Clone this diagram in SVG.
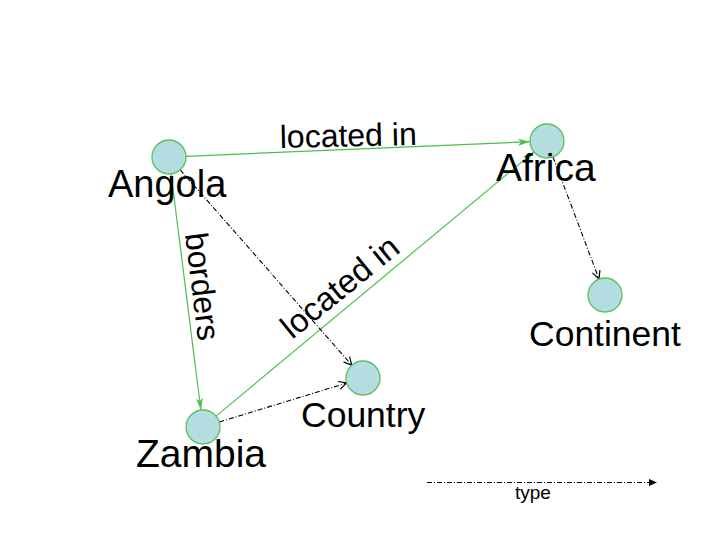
<svg xmlns="http://www.w3.org/2000/svg" width="728" height="546" viewBox="0 0 728 546">
<style>
.node{fill:#b3dde0;stroke:#5cc05c;stroke-width:1.3}
.lbl{font-family:"Liberation Sans",Arial,sans-serif;fill:#000}
.g{stroke:#4cbf4c;stroke-width:1.2;fill:none}
.t{stroke:#000;stroke-width:1.1;fill:none;stroke-dasharray:5,2,1,2}
</style>
<defs>
<marker id="ag" viewBox="0 0 12 8" refX="12" refY="4" markerWidth="12" markerHeight="8" markerUnits="userSpaceOnUse" orient="auto">
<path d="M0,0.5 L12,4 L0,7.5 L3,4 Z" fill="#4cbf4c"/>
</marker>
<marker id="ab" viewBox="0 0 10 10" refX="9" refY="5" markerWidth="10" markerHeight="10" markerUnits="userSpaceOnUse" orient="auto">
<path d="M1,1 L9,5 L1,9" fill="none" stroke="#000" stroke-width="1.2"/>
</marker>
<marker id="al" viewBox="0 0 8 8" refX="8" refY="4" markerWidth="8" markerHeight="8" markerUnits="userSpaceOnUse" orient="auto">
<path d="M0,0.5 L8,4 L0,7.5 Z" fill="#000"/>
</marker>
</defs>
<g id="connectors">
<line class="g" x1="186" y1="156.3" x2="530" y2="141.7" marker-end="url(#ag)"/>
<line class="g" x1="171.1" y1="173.9" x2="200.9" y2="410.1" marker-end="url(#ag)"/>
<line class="g" x1="216.1" y1="416.1" x2="533.9" y2="151.9" marker-end="url(#ag)"/>
<line class="t" x1="180.2" y1="169.8" x2="351.8" y2="365.2" marker-end="url(#ab)"/>
<line class="t" x1="219.3" y1="422" x2="346.7" y2="383" marker-end="url(#ab)"/>
<line class="t" x1="553" y1="157" x2="599" y2="279" marker-end="url(#ab)"/>
<line class="t" x1="427" y1="482.5" x2="657" y2="482.5" marker-end="url(#al)"/>
<text class="lbl" font-size="32" transform="translate(280,148) rotate(-1.3)">located in</text>
<text class="lbl" font-size="33" transform="translate(292,340) rotate(-39)">located in</text>
<text class="lbl" font-size="32" transform="translate(185,234) rotate(83)">borders</text>
<text class="lbl" font-size="19" x="515" y="499">type</text>
</g>
<g id="angola"><circle class="node" cx="169" cy="157" r="17"/><text class="lbl" font-size="38" x="108" y="197">Angola</text></g>
<g id="africa"><circle class="node" cx="547" cy="141" r="17"/><text class="lbl" font-size="39" x="496" y="181">Africa</text></g>
<g id="continent"><circle class="node" cx="605" cy="295" r="17"/><text class="lbl" font-size="35.5" x="529" y="346">Continent</text></g>
<g id="country"><circle class="node" cx="363" cy="378" r="17"/><text class="lbl" font-size="35.5" x="301" y="427">Country</text></g>
<g id="zambia"><circle class="node" cx="203" cy="427" r="17"/><text class="lbl" font-size="39" x="136" y="467">Zambia</text></g>
</svg>
